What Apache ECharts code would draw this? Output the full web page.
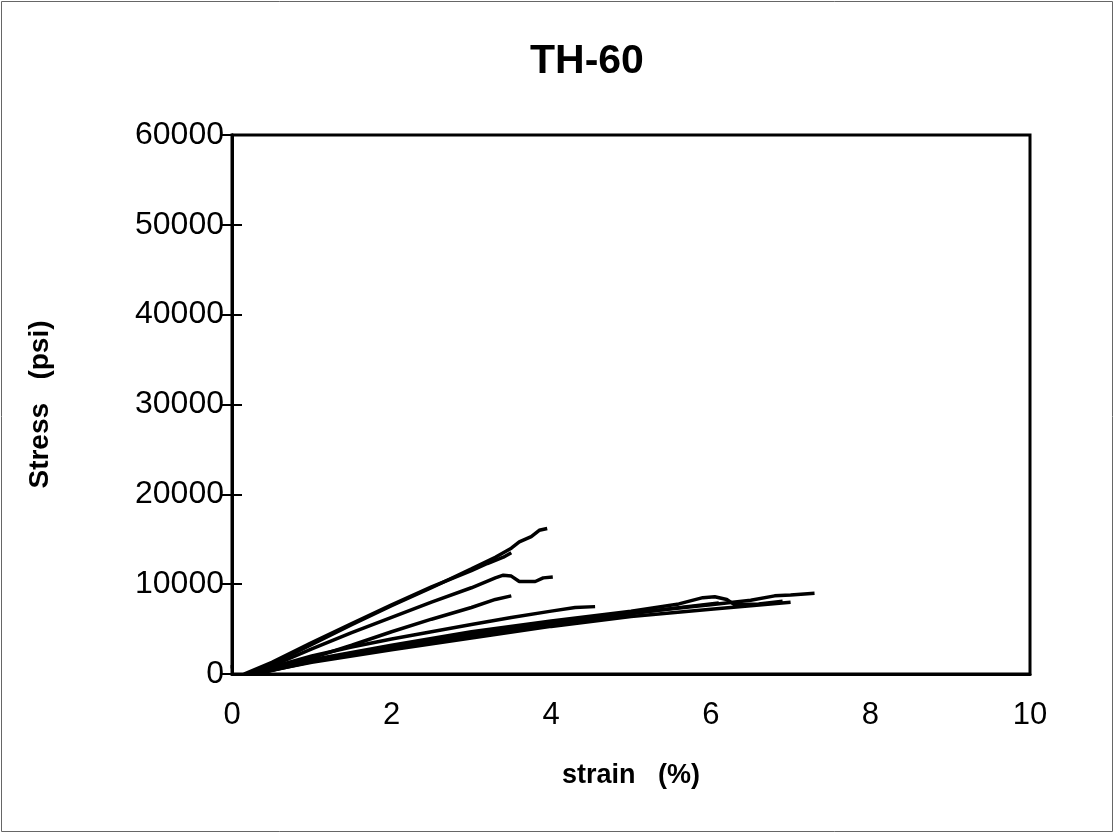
<!DOCTYPE html>
<html>
<head>
<meta charset="utf-8">
<script src="https://cdn.jsdelivr.net/npm/echarts@6/dist/echarts.min.js"></script>
<style>html,body{margin:0;padding:0;background:#fff}#c{width:1114px;height:833px}</style>
</head>
<body>
<div id="c"></div>
<script>
const chartTitle = "TH-60";
const xAxisName = "strain   (%)";
const yAxisName = "Stress   (psi)";
const xTicks = [0, 2, 4, 6, 8, 10];
const yTicks = [0, 10000, 20000, 30000, 40000, 50000, 60000];

const curveA = [[0.2,0],[0.5,1100],[1.0,3300],[1.5,5500],[2.0,7600],[2.5,9600],[3.0,11700],[3.3,13000],[3.5,14000],[3.6,14700],[3.75,15300],[3.85,16000],[3.95,16200]];
const curveB = [[0.15,0],[0.5,1300],[1.0,3500],[1.5,5600],[2.0,7700],[2.5,9700],[3.0,11500],[3.2,12300],[3.4,13000],[3.5,13500]];
const curveC = [[0.25,0],[0.5,900],[1.0,2800],[1.5,4600],[2.0,6300],[2.5,8000],[3.0,9600],[3.3,10700],[3.4,11000],[3.5,10900],[3.6,10300],[3.8,10300],[3.9,10700],[4.02,10800]];
const curveD = [[0.3,0],[1.0,1800],[1.5,3200],[2.0,4700],[2.5,6100],[3.0,7400],[3.3,8300],[3.5,8700]];
const curveE = [[0.2,0],[1.0,2000],[1.5,3000],[2.0,3900],[2.5,4700],[3.0,5500],[3.5,6300],[4.0,7000],[4.3,7400],[4.55,7500]];
const curveF = [[0.3,0],[1.0,1500],[2.0,3000],[3.0,4400],[4.0,5700],[5.0,6800],[6.0,7700],[6.5,8200],[6.8,8700],[7.0,8800],[7.3,9000]];
const curveG = [[0.25,0],[1.0,1300],[2.0,2700],[3.0,4000],[4.0,5300],[5.0,6400],[6.0,7200],[6.5,7600],[7.0,8000]];
const curveH = [[0.2,0],[1.0,1600],[2.0,3200],[3.0,4700],[4.0,5900],[5.0,7000],[5.6,7800],[5.9,8500],[6.05,8600],[6.2,8300],[6.3,7700],[6.6,7800],[6.9,8100]];
const curveI = [[0.3,0],[1.0,1400],[2.0,2900],[3.0,4300],[4.0,5600],[5.0,6700],[5.7,7500],[6.1,7900]];
const curveStub = [[-0.18,800],[-0.02,800]];

const curves = [curveA, curveB, curveC, curveD, curveE, curveF, curveG, curveH, curveI, curveStub];

const chart = echarts.init(document.getElementById('c'));
const FONT = '"Liberation Sans", Arial, sans-serif';
const yAxisCommon = {
  type: 'value', min: yTicks[0], max: yTicks[yTicks.length-1], interval: 10000,
  splitLine: {show: false},
  axisLine: {show: true, lineStyle: {color: '#000', width: 3}}
};
chart.setOption({
  animation: false,
  backgroundColor: '#fff',
  title: {text: chartTitle, left: 525, top: 36,
    textStyle: {fontFamily: FONT, fontSize: 41, fontWeight: 'bold', color: '#000'}},
  grid: {left: 232, right: 84, top: 135, bottom: 159, show: true, borderColor: '#000', borderWidth: 3, backgroundColor: 'transparent'},
  xAxis: {
    type: 'value', min: xTicks[0], max: xTicks[xTicks.length-1], interval: 2,
    name: xAxisName, nameLocation: 'middle', nameGap: 88,
    nameTextStyle: {fontFamily: FONT, fontSize: 27, fontWeight: 'bold', color: '#000'},
    axisLine: {show: true, onZero: false, lineStyle: {color: '#000', width: 3}},
    axisTick: {show: false},
    splitLine: {show: false},
    axisLabel: {fontFamily: FONT, fontSize: 31, color: '#000', margin: 26}
  },
  yAxis: [
    Object.assign({}, yAxisCommon, {
      name: yAxisName, nameLocation: 'middle', nameGap: 178, nameRotate: 90,
      nameTextStyle: {fontFamily: FONT, fontSize: 28, fontWeight: 'bold', color: '#000'},
      axisTick: {show: true, length: 10, lineStyle: {color: '#000', width: 2}},
      axisLabel: {fontFamily: FONT, fontSize: 32, color: '#000', margin: 8, formatter: v => String(v)}
    }),
    Object.assign({}, yAxisCommon, {
      position: 'left',
      axisTick: {show: true, inside: true, length: 10, lineStyle: {color: '#000', width: 2}},
      axisLabel: {show: false}
    })
  ],
  graphic: [{type: 'rect', shape: {x: 1.5, y: 1.5, width: 1111, height: 830}, style: {fill: 'none', stroke: '#666', lineWidth: 1}}],
  series: curves.map(c => ({
    type: 'line', data: c, showSymbol: false, symbol: 'none',
    lineStyle: {color: '#000', width: 3.5}, clip: false
  }))
});
</script>
</body>
</html>
